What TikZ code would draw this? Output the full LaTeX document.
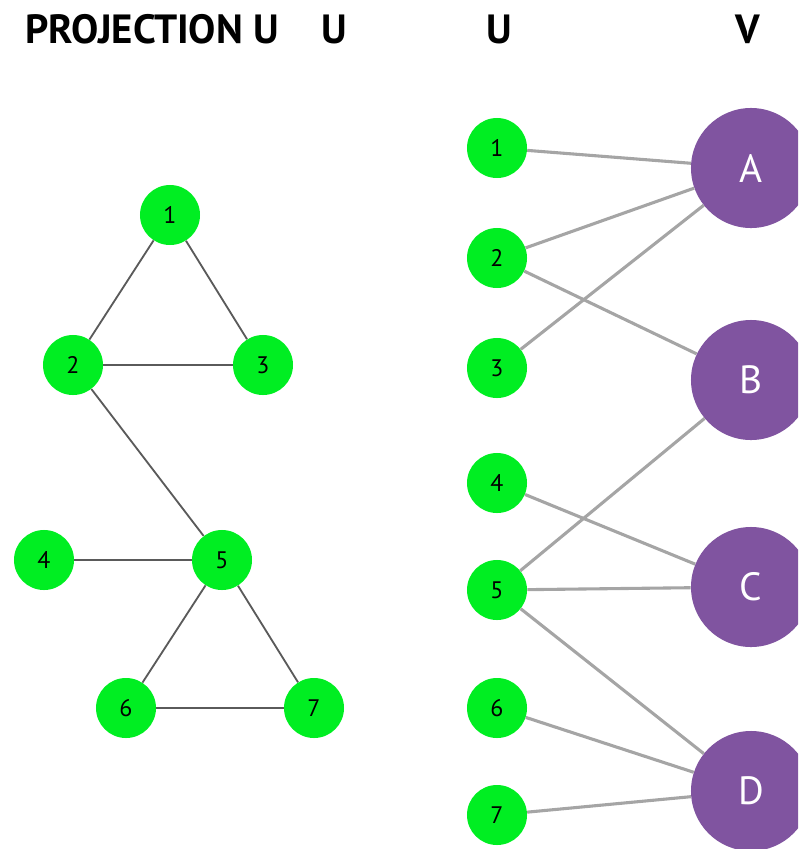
\documentclass[tikz,border=0pt]{standalone}
\usepackage{fontspec}
\setmainfont{PT Sans}
\usepackage{xcolor}
\usepackage{tikz}
\definecolor{NodeGreen} {RGB}{0, 238, 34}
\definecolor{NodePurple}{RGB}{128, 84, 160}
\definecolor{EdgeDark}  {RGB}{90, 90, 90}
\definecolor{EdgeLight} {RGB}{165, 165, 165}

\begin{document}
\begin{tikzpicture}[
    x=0.025cm, y=-0.025cm,
    unode/.style={circle, fill=NodeGreen, minimum size=1.5cm, inner sep=0pt, font=\fontsize{17}{17}\selectfont},
    vnode/.style={circle, fill=NodePurple, minimum size=3cm, inner sep=0pt, text=white, font=\fontsize{28}{28}\selectfont},
    projedge/.style={EdgeDark, line width=1.3pt},
    bipedge/.style={EdgeLight, line width=2.2pt},
    heading/.style={anchor=base west, inner sep=0pt, font=\bfseries\fontsize{29}{29}\selectfont}
]
    \useasboundingbox (0,0) rectangle (798,849);
    \clip (0,0) rectangle (798,849);

    % Headings
    \node[heading] (hproj) at (25,43) {PROJECTION U};
    \node[heading] (hu)    at (321,43) {U};
    \node[heading] (hbu)   at (486,43) {U};
    \node[heading] (hbv)   at (735,43) {V};

    % Projection onto U
    \node[unode] (p1) at (170,215) {1};
    \node[unode] (p2) at (73,365)  {2};
    \node[unode] (p3) at (263,365) {3};
    \node[unode] (p4) at (44,560)  {4};
    \node[unode] (p5) at (222,560) {5};
    \node[unode] (p6) at (126,708) {6};
    \node[unode] (p7) at (314,708) {7};

    \draw[projedge] (p1) -- (p2);
    \draw[projedge] (p1) -- (p3);
    \draw[projedge] (p2) -- (p3);
    \draw[projedge] (p2) -- (p5);
    \draw[projedge] (p4) -- (p5);
    \draw[projedge] (p5) -- (p6);
    \draw[projedge] (p5) -- (p7);
    \draw[projedge] (p6) -- (p7);

    % Bipartite graph U -- V
    \node[unode] (u1) at (497,148) {1};
    \node[unode] (u2) at (497,258) {2};
    \node[unode] (u3) at (497,368) {3};
    \node[unode] (u4) at (497,483) {4};
    \node[unode] (u5) at (497,590) {5};
    \node[unode] (u6) at (497,708) {6};
    \node[unode] (u7) at (497,815) {7};

    \node[vnode] (vA) at (751,168) {A};
    \node[vnode] (vB) at (751,380) {B};
    \node[vnode] (vC) at (751,587) {C};
    \node[vnode] (vD) at (751,791) {D};

    \draw[bipedge] (u1) -- (vA);
    \draw[bipedge] (u2) -- (vA);
    \draw[bipedge] (u3) -- (vA);
    \draw[bipedge] (u2) -- (vB);
    \draw[bipedge] (u5) -- (vB);
    \draw[bipedge] (u4) -- (vC);
    \draw[bipedge] (u5) -- (vC);
    \draw[bipedge] (u5) -- (vD);
    \draw[bipedge] (u6) -- (vD);
    \draw[bipedge] (u7) -- (vD);

\end{tikzpicture}
\end{document}
